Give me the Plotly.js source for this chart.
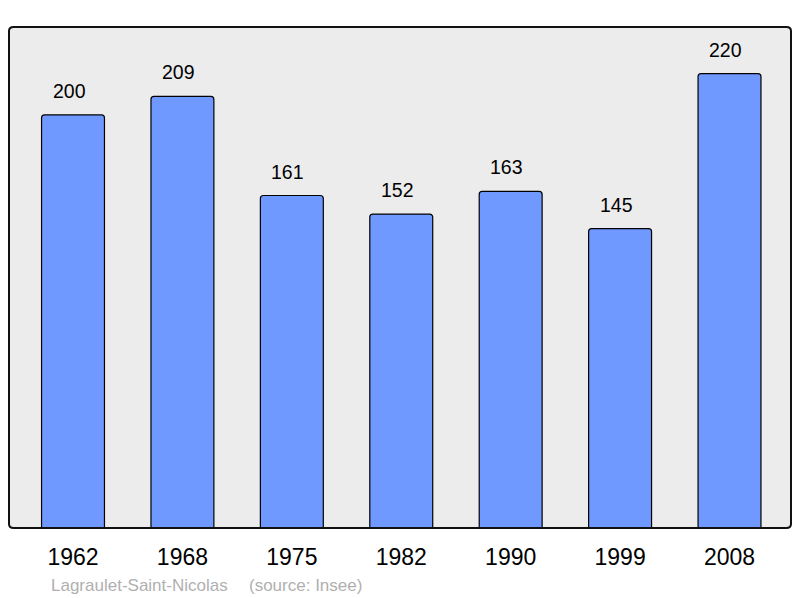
<!DOCTYPE html>
<html>
<head>
<meta charset="utf-8">
<script src="https://cdn.plot.ly/plotly-3.0.1.min.js"></script>
<style>html,body{margin:0;padding:0;background:#fff;}#chart{width:800px;height:598px;}</style>
</head>
<body>
<div id="chart"></div>
<script>
var years = ["1962", "1968", "1975", "1982", "1990", "1999", "2008"];
var population = [200, 209, 161, 152, 163, 145, 220];
var commune = "Lagraulet-Saint-Nicolas";
var source = "(source: Insee)";

var font = "'Liberation Sans', Arial, sans-serif";

var annotations = years.map(function (y, i) {
  return {
    x: i, y: population[i], xref: 'x', yref: 'y',
    text: String(population[i]), showarrow: false,
    yanchor: 'bottom', yshift: 11, xshift: -4,
    font: {family: font, size: 19.5, color: '#000'}
  };
});
annotations.push({
  xref: 'paper', yref: 'paper', x: 0.051, y: -0.1138, xanchor: 'left', yanchor: 'middle',
  text: commune, showarrow: false, font: {family: font, size: 17, color: '#b0b0b0'}
});
annotations.push({
  xref: 'paper', yref: 'paper', x: 0.3044, y: -0.1138, xanchor: 'left', yanchor: 'middle',
  text: source, showarrow: false, font: {family: font, size: 17, color: '#b0b0b0'}
});

var data = [{
  type: 'bar', x: years, y: population, width: 0.575,
  marker: {color: '#7099ff', line: {color: '#000', width: 1.2}, cornerradius: 3},
  hoverinfo: 'none'
}];

var layout = {
  width: 800, height: 598,
  margin: {l: 9, r: 9, t: 27, b: 70, pad: 0},
  paper_bgcolor: '#fff', plot_bgcolor: '#ececec',
  showlegend: false,
  xaxis: {
    type: 'category', range: [-0.585, 6.562], showgrid: false, zeroline: false,
    showline: false, ticks: '', ticklabelstandoff: 13,
    tickfont: {family: font, size: 23, color: '#000'}, fixedrange: true
  },
  yaxis: {
    range: [0, 242.6], showgrid: false, zeroline: false, showline: false,
    showticklabels: false, ticks: '', fixedrange: true
  },
  shapes: [{
    type: 'path', xref: 'paper', yref: 'paper', layer: 'above',
    path: 'M 0.006 0 L 0.994 0 Q 1 0 1 0.008 L 1 0.992 Q 1 1 0.994 1 L 0.006 1 Q 0 1 0 0.992 L 0 0.008 Q 0 0 0.006 0 Z',
    line: {color: '#111', width: 2}
  }],
  annotations: annotations
};

Plotly.newPlot('chart', data, layout, {displayModeBar: false, staticPlot: true});
</script>
</body>
</html>
